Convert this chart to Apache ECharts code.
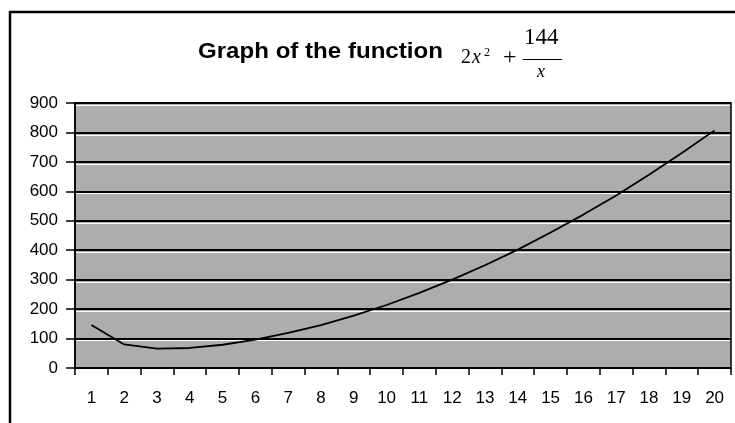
<!DOCTYPE html>
<html>
<head>
<meta charset="utf-8">
<script src="https://cdn.jsdelivr.net/npm/echarts@6/dist/echarts.min.js"></script>
<style>
html,body{margin:0;padding:0;background:#fff;}
#c{width:735px;height:423px;}
</style>
</head>
<body>
<div id="c"></div>
<script>
var categories = ['1','2','3','4','5','6','7','8','9','10','11','12','13','14','15','16','17','18','19','20'];
var values = [146, 80, 66, 68, 79, 96, 119, 146, 178, 214, 255, 300, 349, 402, 460, 521, 586, 656, 730, 807];
var yMin = 0, yMax = 900, yStep = 100;
var titleText = 'Graph of the function';

var chart = echarts.init(document.getElementById('c'), null, {renderer: 'canvas'});
var serif = '"Liberation Serif", "DejaVu Serif", serif';
var sans = '"Liberation Sans", Arial, sans-serif';
chart.setOption({
  animation: false,
  backgroundColor: '#ffffff',
  grid: [
    {left: 75, right: 4, top: 103, bottom: 55,
     show: true, backgroundColor: '#adadad', borderColor: '#000', borderWidth: 1.5},
    {left: 76, right: 5, top: 105.5, bottom: 82.5, show: false}
  ],
  xAxis: [{
    type: 'category',
    gridIndex: 0,
    data: categories,
    boundaryGap: true,
    axisLine: {lineStyle: {color: '#000', width: 1.5}},
    axisTick: {show: true, length: 7, lineStyle: {color: '#000', width: 1.5}},
    axisLabel: {color: '#000', fontFamily: sans, fontSize: 17, margin: 22}
  }, {
    type: 'category', gridIndex: 1, data: categories, show: false
  }],
  yAxis: [{
    type: 'value',
    gridIndex: 0,
    min: yMin, max: yMax, interval: yStep,
    axisLine: {show: true, lineStyle: {color: '#000', width: 1.5}},
    axisTick: {show: true, length: 9, lineStyle: {color: '#000', width: 1.5}},
    axisLabel: {color: '#000', fontFamily: sans, fontSize: 17, margin: 17},
    splitLine: {show: true, lineStyle: {color: '#000', width: 2}},
    z: 3
  }, {
    type: 'value',
    gridIndex: 1,
    min: yStep, max: yMax, interval: yStep,
    axisLine: {show: false}, axisTick: {show: false}, axisLabel: {show: false},
    splitLine: {show: true, lineStyle: {color: '#ffffff', width: 1}},
    z: 1
  }],
  series: [{
    type: 'line',
    xAxisIndex: 0, yAxisIndex: 0,
    data: values,
    showSymbol: false,
    symbol: 'none',
    lineStyle: {color: '#000', width: 1.8},
    z: 5
  }],
  graphic: [
    {type: 'rect', shape: {x: 10, y: 12, width: 740, height: 430}, style: {fill: 'none', stroke: '#000', lineWidth: 2.5}, silent: true},
    {type: 'text', x: 198, y: 41, scaleX: 1.095, style: {text: titleText, font: 'bold 22px ' + sans, fill: '#000'}},
    {type: 'text', x: 461, y: 48, style: {text: '2', font: '20px ' + serif, fill: '#000'}},
    {type: 'text', x: 472, y: 48, style: {text: 'x', font: 'italic 20px ' + serif, fill: '#000'}},
    {type: 'text', x: 484, y: 47, style: {text: '2', font: '12px ' + serif, fill: '#000'}},
    {type: 'text', x: 503, y: 46, style: {text: '+', font: '24px ' + serif, fill: '#000'}},
    {type: 'text', x: 524, y: 26, style: {text: '144', font: '23px ' + serif, fill: '#000'}},
    {type: 'line', shape: {x1: 523, y1: 59.5, x2: 562, y2: 59.5}, style: {stroke: '#000', lineWidth: 1.2}},
    {type: 'text', x: 537, y: 63, style: {text: 'x', font: 'italic 18px ' + serif, fill: '#000'}}
  ]
});
</script>
</body>
</html>
